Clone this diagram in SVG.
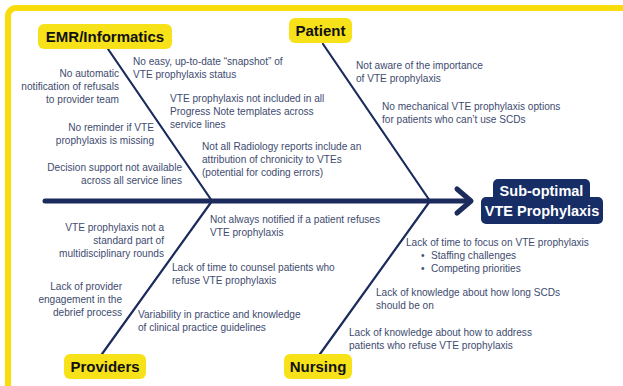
<svg xmlns="http://www.w3.org/2000/svg" width="623" height="386" viewBox="0 0 623 386">
<defs>
<style>
.frame{fill:none;stroke:#f8dc0b;stroke-width:6}
.bone{stroke:#1a2b5c;stroke-width:2.2;fill:none;stroke-linecap:round}
.spine{stroke:#1a2b5c;stroke-width:5;fill:none;stroke-linecap:round;stroke-linejoin:round}
.hbox{fill:#f7e21a}
.htxt{font-family:"Liberation Sans",Arial,sans-serif;font-weight:bold;font-size:15px;fill:#111;text-anchor:middle}
.t{font-family:"Liberation Sans",Arial,sans-serif;font-size:10.1px;fill:#3e4b6f}
.r{text-anchor:end}
.eff{fill:#162d66}
.etxt{font-family:"Liberation Sans",Arial,sans-serif;font-weight:bold;font-size:14.5px;fill:#fff;text-anchor:middle}
</style>
</defs>
<rect width="623" height="386" fill="#fff"/>
<rect class="frame" x="8" y="8" width="700" height="500" rx="8"/>
<g id="connectors">
<line class="bone" x1="108" y1="49" x2="212" y2="201"/>
<line class="bone" x1="212" y1="201" x2="102" y2="354"/>
<line class="bone" x1="323" y1="44" x2="430" y2="201"/>
<line class="bone" x1="430" y1="201" x2="320" y2="354"/>
<line class="spine" x1="45" y1="201" x2="470" y2="201"/>
<polyline class="spine" points="457,189 471,201 457,213"/>
</g>
<g id="emr">
<rect class="hbox" x="38" y="24" width="134" height="25" rx="6"/>
<text class="htxt" x="105" y="42">EMR/Informatics</text>
<text class="t r" x="119" y="77">No automatic</text>
<text class="t r" x="119" y="90">notification of refusals</text>
<text class="t r" x="119" y="103">to provider team</text>
<text class="t r" x="154" y="131">No reminder if VTE</text>
<text class="t r" x="154" y="144">prophylaxis is missing</text>
<text class="t r" x="182" y="171">Decision support not available</text>
<text class="t r" x="182" y="184">across all service lines</text>
<text class="t" x="133" y="65">No easy, up-to-date “snapshot” of</text>
<text class="t" x="133" y="78">VTE prophylaxis status</text>
<text class="t" x="170" y="102">VTE prophylaxis not included in all</text>
<text class="t" x="170" y="115">Progress Note templates across</text>
<text class="t" x="170" y="128">service lines</text>
<text class="t" x="202" y="150">Not all Radiology reports include an</text>
<text class="t" x="202" y="163">attribution of chronicity to VTEs</text>
<text class="t" x="202" y="176">(potential for coding errors)</text>
</g>
<g id="patient">
<rect class="hbox" x="289" y="18" width="63" height="25" rx="6"/>
<text class="htxt" x="320.5" y="36">Patient</text>
<text class="t" x="356" y="69">Not aware of the importance</text>
<text class="t" x="356" y="82">of VTE prophylaxis</text>
<text class="t" x="382" y="110">No mechanical VTE prophylaxis options</text>
<text class="t" x="382" y="123">for patients who can’t use SCDs</text>
</g>
<g id="providers">
<rect class="hbox" x="64" y="354" width="82" height="25" rx="6"/>
<text class="htxt" x="105" y="372">Providers</text>
<text class="t r" x="164" y="231">VTE prophylaxis not a</text>
<text class="t r" x="164" y="244">standard part of</text>
<text class="t r" x="164" y="257">multidisciplinary rounds</text>
<text class="t r" x="122" y="290">Lack of provider</text>
<text class="t r" x="122" y="303">engagement in the</text>
<text class="t r" x="122" y="316">debrief process</text>
<text class="t" x="210" y="223">Not always notified if a patient refuses</text>
<text class="t" x="210" y="236">VTE prophylaxis</text>
<text class="t" x="172" y="271">Lack of time to counsel patients who</text>
<text class="t" x="172" y="284">refuse VTE prophylaxis</text>
<text class="t" x="138" y="318">Variability in practice and knowledge</text>
<text class="t" x="138" y="331">of clinical practice guidelines</text>
</g>
<g id="nursing">
<rect class="hbox" x="284" y="354" width="68" height="25" rx="6"/>
<text class="htxt" x="318" y="372">Nursing</text>
<text class="t" x="406" y="246">Lack of time to focus on VTE prophylaxis</text>
<text class="t" x="421" y="259">•</text>
<text class="t" x="431" y="259">Staffing challenges</text>
<text class="t" x="421" y="272">•</text>
<text class="t" x="431" y="272">Competing priorities</text>
<text class="t" x="376" y="296">Lack of knowledge about how long SCDs</text>
<text class="t" x="376" y="309">should be on</text>
<text class="t" x="349" y="336">Lack of knowledge about how to address</text>
<text class="t" x="349" y="349">patients who refuse VTE prophylaxis</text>
</g>
<g id="effect">
<rect class="eff" x="493" y="179" width="97" height="24" rx="5"/>
<rect class="eff" x="481" y="197" width="122" height="27" rx="5"/>
<text class="etxt" x="541.5" y="196">Sub-optimal</text>
<text class="etxt" x="542" y="216">VTE Prophylaxis</text>
</g>
</svg>
